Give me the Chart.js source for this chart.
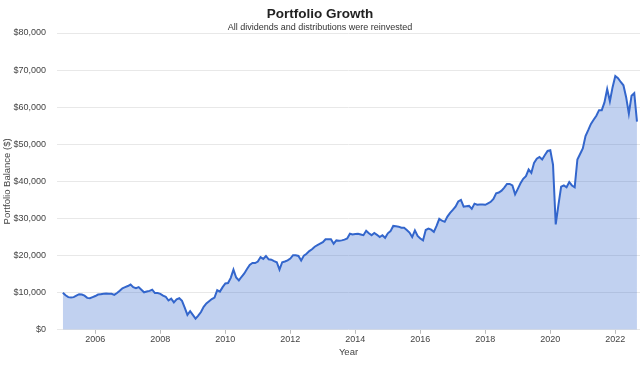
<!DOCTYPE html>
<html>
<head>
<meta charset="utf-8">
<script src="https://cdn.jsdelivr.net/npm/chart.js@4/dist/chart.umd.min.js"></script>
<style>
  html, body { margin: 0; padding: 0; background: #fff; }
  #wrap { width: 640px; height: 369px; }
</style>
</head>
<body>
<div id="wrap"><canvas id="growth"></canvas></div>
<script>
// first month of the series (Jan 2005), one value per month, in $ thousands
const startYear = 2005;
const balance2005 = [10.0, 9.3, 8.8, 8.7, 8.8, 9.2, 9.6, 9.5, 9.2, 8.6, 8.5, 8.8];
const balance2006 = [9.1, 9.5, 9.6, 9.7, 9.8, 9.7, 9.7, 9.4, 9.9, 10.5, 11.2, 11.5];
const balance2007 = [11.8, 12.2, 11.5, 11.2, 11.5, 10.8, 10.1, 10.3, 10.5, 10.8, 9.9, 9.9];
const balance2008 = [9.7, 9.2, 8.9, 7.9, 8.4, 7.4, 8.2, 8.5, 7.8, 6.0, 4.0, 5.0];
const balance2009 = [4.0, 3.0, 3.8, 4.8, 6.2, 7.1, 7.7, 8.3, 8.7, 10.7, 10.3, 11.5];
const balance2010 = [12.5, 12.6, 14.0, 16.2, 14.1, 13.3, 14.3, 15.2, 16.4, 17.5, 18.0, 18.0];
const balance2011 = [18.4, 19.6, 19.1, 19.9, 19.0, 18.9, 18.5, 18.2, 16.2, 18.2, 18.4, 18.7];
const balance2012 = [19.2, 20.1, 20.1, 19.9, 18.7, 20.0, 20.5, 21.2, 21.7, 22.4, 22.8, 23.2];
const balance2013 = [23.6, 24.4, 24.4, 24.4, 23.2, 24.1, 24.0, 24.1, 24.3, 24.6, 25.9, 25.7];
const balance2014 = [25.8, 25.9, 25.7, 25.5, 26.7, 26.0, 25.5, 26.1, 25.6, 25.0, 25.5, 24.8];
const balance2015 = [26.0, 26.6, 28.0, 27.9, 27.8, 27.5, 27.5, 26.9, 26.2, 25.0, 26.8, 25.3];
const balance2016 = [24.6, 24.1, 26.9, 27.3, 27.0, 26.4, 28.0, 29.9, 29.4, 29.1, 30.5, 31.5];
const balance2017 = [32.3, 33.2, 34.6, 35.0, 33.2, 33.3, 33.4, 32.6, 34.0, 33.7, 33.8, 33.8];
const balance2018 = [33.7, 34.1, 34.5, 35.3, 36.8, 37.0, 37.5, 38.3, 39.3, 39.3, 38.9, 36.5];
const balance2019 = [38.0, 39.5, 40.7, 41.4, 43.2, 42.3, 45.0, 46.1, 46.6, 45.9, 47.1, 48.2];
const balance2020 = [48.4, 44.5, 28.4, 33.7, 38.6, 38.9, 38.4, 39.8, 38.9, 38.4, 45.9, 47.4];
const balance2021 = [48.9, 52.2, 53.8, 55.5, 56.6, 57.7, 59.2, 59.2, 61.3, 64.9, 61.6, 65.4];
const balance2022 = [68.4, 67.8, 66.8, 65.9, 62.7, 58.3, 63.1, 63.8, 56.1];

const yearTicks = [2006, 2008, 2010, 2012, 2014, 2016, 2018, 2020, 2022];
const balanceTicks = [0, 10000, 20000, 30000, 40000, 50000, 60000, 70000, 80000];

const balances = [].concat(balance2005, balance2006, balance2007, balance2008, balance2009,
  balance2010, balance2011, balance2012, balance2013, balance2014, balance2015, balance2016,
  balance2017, balance2018, balance2019, balance2020, balance2021, balance2022);

const points = balances.map(function (v, i) {
  return { x: startYear + i / 12, y: v * 1000 };
});

const font = "'Liberation Sans', Arial, sans-serif";

new Chart(document.getElementById("growth"), {
  type: 'line',
  data: {
    datasets: [{
      label: 'Portfolio',
      data: points,
      borderColor: '#3366cc',
      borderWidth: 2,
      backgroundColor: 'rgba(51,102,204,0.3)',
      fill: 'origin',
      pointRadius: 0,
      tension: 0
    }]
  },
  options: {
    responsive: true,
    maintainAspectRatio: false,
    animation: false,
    layout: { padding: { left: 0, right: 0, top: 0, bottom: 11 } },
    plugins: {
      legend: { display: false },
      tooltip: { enabled: false },
      title: {
        display: true,
        text: 'Portfolio Growth',
        color: '#222',
        font: { family: font, size: 13.5, weight: 'bold' },
        padding: { top: 6, bottom: 0 }
      },
      subtitle: {
        display: true,
        text: 'All dividends and distributions were reinvested',
        color: '#333',
        font: { family: font, size: 9 },
        padding: { top: 0, bottom: 0 }
      }
    },
    scales: {
      x: {
        type: 'linear',
        min: 2004.82,
        max: 2022.76,
        afterBuildTicks: function (scale) {
          scale.ticks = yearTicks.map(function (y) { return { value: y }; });
        },
        ticks: {
          color: '#444',
          font: { family: font, size: 9 },
          padding: 0,
          maxRotation: 0,
          callback: function (v) { return String(v); }
        },
        grid: {
          drawOnChartArea: false,
          drawTicks: true,
          tickLength: 4,
          color: '#bbb'
        },
        border: { display: false },
        title: {
          display: true,
          text: 'Year',
          color: '#444',
          font: { family: font, size: 9.5 },
          padding: { top: 2, bottom: 0 }
        }
      },
      y: {
        min: 0,
        max: 80000,
        afterFit: function (scale) { scale.width = 57; },
        afterBuildTicks: function (scale) {
          scale.ticks = balanceTicks.map(function (v) { return { value: v }; });
        },
        ticks: {
          color: '#444',
          font: { family: font, size: 9 },
          padding: 11,
          callback: function (v) { return '$' + v.toLocaleString('en-US'); }
        },
        grid: {
          color: '#e8e8e8',
          drawTicks: false
        },
        border: { display: false },
        title: {
          display: true,
          text: 'Portfolio Balance ($)',
          color: '#444',
          font: { family: font, size: 9.5 },
          padding: { top: 2, bottom: 0 }
        }
      }
    }
  }
});
</script>
</body>
</html>
